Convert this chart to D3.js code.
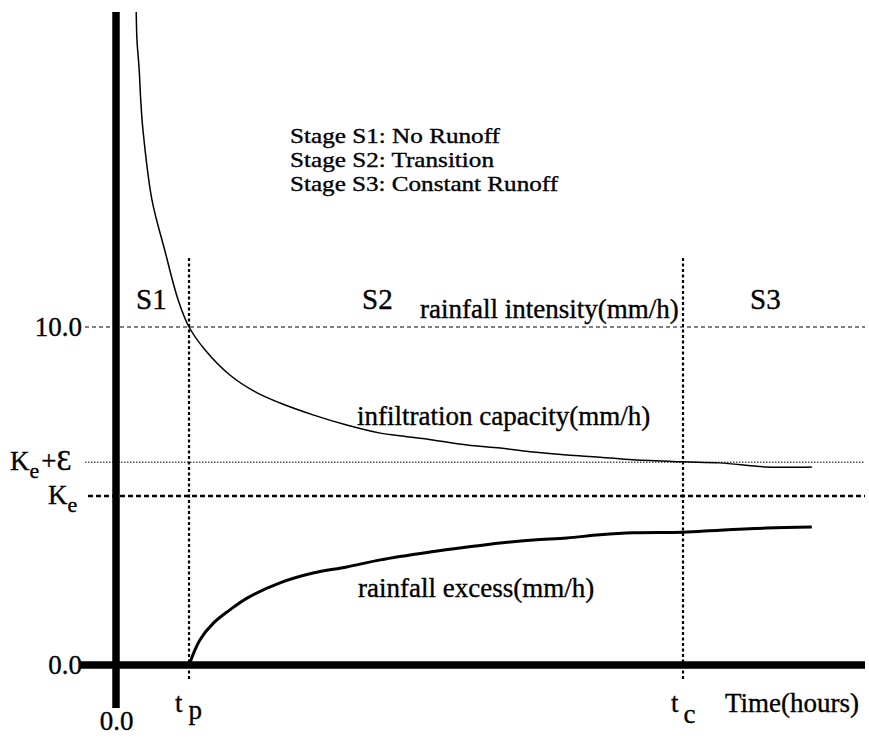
<!DOCTYPE html>
<html>
<head>
<meta charset="utf-8">
<script src="https://cdn.jsdelivr.net/npm/d3@7"></script>
<style>
  html, body { margin: 0; padding: 0; background: #fff; }
  svg text { font-family: "Liberation Serif", "Times New Roman", serif; fill: #000; stroke: #000; stroke-width: 0.35px; }
</style>
</head>
<body>
<svg id="chart" width="869" height="740"></svg>
<script>
// ---- data (time in arbitrary hours, rates in mm/h) ----
const infilTime = [0.27,0.28,0.31,0.33,0.36,0.48,0.65,0.83,0.975,1.19,1.52,1.86,2.19,2.63,3.08,3.53,3.79,4.23,4.69,5.13,5.57,6.02,6.46,6.90,7.57,8.06,8.69,9.29];
const infilRate = [19.32,18.49,17.60,16.72,15.83,13.76,12.28,10.80,10.00,9.32,8.58,8.08,7.75,7.40,7.10,6.86,6.78,6.66,6.51,6.42,6.30,6.21,6.15,6.07,6.01,5.98,5.86,5.86];
const excessTime = [0.975,1.12,1.30,1.52,1.75,2.19,2.63,3.08,3.53,4.19,4.69,5.13,5.57,6.02,6.46,6.90,7.57,8.06,8.69,9.29];
const excessRate = [0,0.74,1.24,1.63,1.98,2.43,2.72,2.90,3.11,3.34,3.49,3.61,3.70,3.76,3.85,3.91,3.93,3.99,4.05,4.08];
const rainfallIntensity = 10.0;
const KePlusEps = 6.0;
const Ke = 5.0;
const tp = 0.975;
const tc = 7.57;
const yTickValues = [0, 10];
const xTickValues = [0];
const legendLines = ["Stage S1: No Runoff", "Stage S2: Transition", "Stage S3: Constant Runoff"];

const svg = d3.select("#chart");
const x = d3.scaleLinear().domain([0, 10]).range([116, 865]);
const y = d3.scaleLinear().domain([0, 10]).range([665, 327]);

// horizontal reference lines
function hline(val, x0, width, dash) {
  svg.append("line")
    .attr("x1", x0).attr("x2", x(10))
    .attr("y1", y(val)).attr("y2", y(val))
    .attr("stroke", "#000").attr("stroke-width", width)
    .attr("stroke-dasharray", dash);
}
hline(rainfallIntensity, 85, 1.2, "4,3");
hline(KePlusEps, 85, 1, "1.5,1.5");
hline(Ke, 88, 2.4, "5,3");

// vertical tp / tc lines
[tp, tc].forEach(t => {
  svg.append("line")
    .attr("x1", x(t)).attr("x2", x(t))
    .attr("y1", 258).attr("y2", 680)
    .attr("stroke", "#000").attr("stroke-width", 2.2)
    .attr("stroke-dasharray", "3,2.5");
});

// curves
svg.append("path")
  .datum(infilTime.map((t, i) => [t, infilRate[i]]))
  .attr("d", d3.line().x(d => x(d[0])).y(d => y(d[1])).curve(d3.curveCatmullRom.alpha(0.5)))
  .attr("fill", "none").attr("stroke", "#000").attr("stroke-width", 1.5);
svg.append("path")
  .datum(excessTime.map((t, i) => [t, excessRate[i]]))
  .attr("d", d3.line().x(d => x(d[0])).y(d => y(d[1])).curve(d3.curveCatmullRom.alpha(0.5)))
  .attr("fill", "none").attr("stroke", "#000").attr("stroke-width", 3);

// thick axes
svg.append("line")
  .attr("x1", x(0)).attr("x2", x(0)).attr("y1", 12).attr("y2", 708)
  .attr("stroke", "#000").attr("stroke-width", 7.5);
svg.append("line")
  .attr("x1", 80).attr("x2", x(10)).attr("y1", y(0)).attr("y2", y(0))
  .attr("stroke", "#000").attr("stroke-width", 7.5);

// tick labels via d3 axes
const yAxis = svg.append("g").attr("transform", "translate(82,0)")
  .call(d3.axisLeft(y).tickValues(yTickValues).tickFormat(d3.format(".1f")).tickSize(0).tickPadding(0));
yAxis.select(".domain").remove();
yAxis.selectAll("text").style("font-family", "'Liberation Serif', serif").style("font-size", "27px").attr("dy", "0.33em");

const xAxis = svg.append("g").attr("transform", "translate(0,711)")
  .call(d3.axisBottom(x).tickValues(xTickValues).tickFormat(d3.format(".1f")).tickSize(0).tickPadding(0));
xAxis.select(".domain").remove();
xAxis.selectAll("text").style("font-family", "'Liberation Serif', serif").style("font-size", "27px").attr("dy", "0.72em");

// Ke + eps label
const kel = svg.append("text").attr("x", 10).attr("y", y(KePlusEps) + 8).style("font-size", "27px");
kel.append("tspan").text("K");
kel.append("tspan").attr("dy", 8).style("font-size", "22px").text("e");
kel.append("tspan").attr("dy", -8).attr("dx", 2).text("+");
kel.append("tspan").style("font-size", "30px").text("Ɛ");
const ke = svg.append("text").attr("x", 48).attr("y", y(Ke) + 8).style("font-size", "27px");
ke.append("tspan").text("K");
ke.append("tspan").attr("dy", 8).style("font-size", "22px").text("e");

// stage labels
function label(txt, px, py, size) {
  svg.append("text").attr("x", px).attr("y", py).style("font-size", size + "px").text(txt);
}
label("S1", 136, 309, 29);
label("S2", 362, 309, 29);
label("S3", 750, 309, 29);
label("rainfall intensity(mm/h)", 420, 318, 27);
label("infiltration capacity(mm/h)", 357, 425, 27);
label("rainfall excess(mm/h)", 358, 597, 27);
label("Time(hours)", 725, 712, 27);

// tp, tc
const tpl = svg.append("text").attr("x", x(tp) - 14).attr("y", 712).style("font-size", "27px");
tpl.append("tspan").text("t");
tpl.append("tspan").attr("dx", 6).attr("dy", 7).text("p");
const tcl = svg.append("text").attr("x", x(tc) - 12).attr("y", 712).style("font-size", "27px");
tcl.append("tspan").text("t");
tcl.append("tspan").attr("dx", 5).attr("dy", 11).text("c");

// legend: three tightly spaced lines, horizontally stretched to the reference widths
const legendWidths = [210, 204, 268];
svg.append("g").selectAll("text").data(legendLines).join("text")
  .attr("x", 290).attr("y", (d, i) => 143 + i * 24)
  .style("font-size", "21.5px")
  .attr("textLength", (d, i) => legendWidths[i])
  .attr("lengthAdjust", "spacingAndGlyphs")
  .text(d => d);
</script>
</body>
</html>
